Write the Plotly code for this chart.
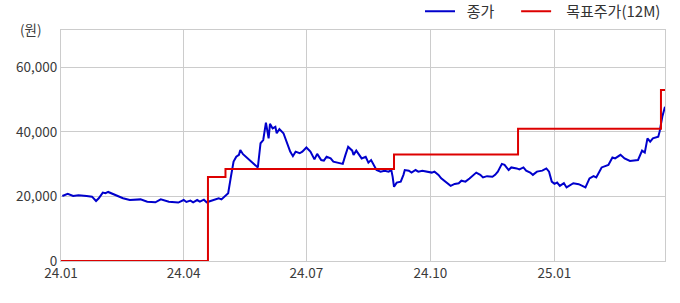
import plotly.graph_objects as go

# 종가 (close price)
close_dates = [
    "2024-01-02", "2024-01-06", "2024-01-10", "2024-01-14", "2024-01-20", "2024-01-24",
    "2024-01-27", "2024-01-29", "2024-02-01", "2024-02-03", "2024-02-05", "2024-02-08",
    "2024-02-11", "2024-02-16", "2024-02-21", "2024-02-27", "2024-02-29", "2024-03-05",
    "2024-03-11", "2024-03-15", "2024-03-21", "2024-03-28", "2024-04-01", "2024-04-03",
    "2024-04-06", "2024-04-08", "2024-04-11", "2024-04-13", "2024-04-16", "2024-04-18",
    "2024-04-22", "2024-04-24", "2024-04-27", "2024-04-29", "2024-05-02", "2024-05-04",
    "2024-05-06", "2024-05-08", "2024-05-10", "2024-05-12", "2024-05-13", "2024-05-15",
    "2024-05-26", "2024-05-28", "2024-05-30", "2024-06-01", "2024-06-03", "2024-06-04",
    "2024-06-06", "2024-06-08", "2024-06-09", "2024-06-11", "2024-06-14", "2024-06-17",
    "2024-06-19", "2024-06-21", "2024-06-23", "2024-06-26", "2024-06-28", "2024-07-01",
    "2024-07-04", "2024-07-07", "2024-07-09", "2024-07-12", "2024-07-14", "2024-07-16",
    "2024-07-19", "2024-07-21", "2024-07-25", "2024-07-28", "2024-07-30", "2024-08-01",
    "2024-08-04", "2024-08-05", "2024-08-07", "2024-08-09", "2024-08-11", "2024-08-14",
    "2024-08-16", "2024-08-18", "2024-08-20", "2024-08-22", "2024-08-25", "2024-08-28",
    "2024-08-31", "2024-09-02", "2024-09-03", "2024-09-04", "2024-09-06", "2024-09-09",
    "2024-09-11", "2024-09-12", "2024-09-15", "2024-09-17", "2024-09-20", "2024-09-22",
    "2024-09-25", "2024-09-28", "2024-10-02", "2024-10-04", "2024-10-07", "2024-10-09",
    "2024-10-13", "2024-10-16", "2024-10-19", "2024-10-22", "2024-10-24", "2024-10-27",
    "2024-10-30", "2024-11-04", "2024-11-07", "2024-11-09", "2024-11-12", "2024-11-16",
    "2024-11-18", "2024-11-20", "2024-11-23", "2024-11-25", "2024-11-28", "2024-11-30",
    "2024-12-04", "2024-12-06", "2024-12-09", "2024-12-11", "2024-12-14", "2024-12-16",
    "2024-12-19", "2024-12-23", "2024-12-26", "2024-12-28", "2024-12-30", "2025-01-01",
    "2025-01-03", "2025-01-05", "2025-01-08", "2025-01-10", "2025-01-15", "2025-01-19",
    "2025-01-24", "2025-01-27", "2025-01-30", "2025-02-01", "2025-02-05", "2025-02-08",
    "2025-02-10", "2025-02-13", "2025-02-15", "2025-02-19", "2025-02-22", "2025-02-26",
    "2025-03-02", "2025-03-04", "2025-03-07", "2025-03-09", "2025-03-11", "2025-03-13",
    "2025-03-15", "2025-03-17", "2025-03-19", "2025-03-20", "2025-03-22", "2025-03-24",
]
close_values = [
    20150, 20800, 20150, 20400, 20150, 19950,
    18600, 19450, 21200, 21000, 21400, 20800,
    20400, 19450, 18900, 18900, 19100, 18400,
    18200, 19100, 18400, 18100, 18900, 18300,
    18700, 18200, 18900, 18400, 19000, 18200,
    18700, 19100, 19400, 19100, 20400, 21000,
    26100, 30800, 32300, 32900, 34400, 33100,
    29000, 36500, 37500, 42900, 38000, 42500,
    41100, 41600, 39600, 40900, 39600, 36500,
    33900, 32500, 33900, 33400, 33900, 35200,
    33900, 31500, 33200, 31300, 31100, 32300,
    31800, 30800, 30500, 30100, 32900, 35400,
    34200, 32900, 34200, 32900, 31800, 32300,
    30500, 31300, 29800, 28200, 27700, 28000,
    27700, 28200, 26100, 23000, 24300, 24600,
    26700, 28200, 28000, 27400, 28200, 27700,
    28000, 27700, 27400, 27700, 26700, 25600,
    24300, 23300, 23900, 24100, 24900, 24600,
    25600, 27400, 26700, 25900, 26300, 26100,
    26700, 27700, 30100, 29800, 28200, 29000,
    28700, 28400, 29000, 28000, 27400, 26700,
    27700, 28000, 28700, 27700, 24600, 23900,
    24300, 23300, 24100, 22800, 24100, 23800,
    22800, 25600, 26300, 25900, 29000, 29500,
    29800, 32100, 31800, 32900, 31800, 31000,
    31100, 31300, 34200, 33600, 38000, 37000,
    38000, 38300, 38500, 40100, 44700, 47800,
]

# 목표주가(12M) (target price, step changes)
target_dates = ["2024-01-01", "2024-04-19", "2024-05-02", "2024-09-04",
                "2024-12-05", "2025-03-21", "2025-03-24"]
target_values = [0, 26000, 28500, 33000, 41000, 53000, 53000]

x_tick_vals = ["2024-01-01", "2024-04-01", "2024-07-01", "2024-10-01", "2025-01-01"]
x_tick_text = ["24.01", "24.04", "24.07", "24.10", "25.01"]
y_tick_vals = [0, 20000, 40000, 60000]

FONT = "Noto Sans CJK KR"
GRID = "#cccccc"
NB = "\u00a0"

fig = go.Figure()
fig.add_trace(go.Scatter(
    x=close_dates, y=close_values, mode="lines", name=NB * 2 + "종가" + NB * 5,
    line=dict(color="#0000cc", width=2),
))
fig.add_trace(go.Scatter(
    x=target_dates, y=target_values, mode="lines", name=NB * 3 + "목표주가(12M)",
    line=dict(color="#dd0000", width=2, shape="hv"),
))

fig.update_layout(
    width=680, height=303,
    margin=dict(l=61, r=15, t=30, b=42, autoexpand=False),
    paper_bgcolor="white", plot_bgcolor="white",
    font=dict(family=FONT, size=13, color="#333333"),
    showlegend=True,
    legend=dict(
        orientation="h", xref="paper", yref="paper",
        x=(420 - 61) / 604, xanchor="left", y=(261 + 5) / 231, yanchor="top",
        font=dict(size=15, color="#333333"), bgcolor="rgba(0,0,0,0)",
        itemwidth=30,
    ),
    xaxis=dict(
        type="date", range=["2024-01-01", "2025-03-24"],
        tickvals=x_tick_vals, ticktext=x_tick_text,
        showgrid=True, gridcolor=GRID, gridwidth=1,
        showline=True, linecolor=GRID, linewidth=1, mirror=True,
        ticks="", zeroline=False,
        tickfont=dict(size=13.5, color="#3a3a3a"),
    ),
    yaxis=dict(
        range=[0, 71600], tickvals=y_tick_vals, tickformat=",",
        showgrid=True, gridcolor=GRID, gridwidth=1,
        showline=True, linecolor=GRID, linewidth=1, mirror=True,
        ticks="", zeroline=False,
        tickfont=dict(size=13.5, color="#3a3a3a"),
    ),
    annotations=[dict(
        text="(원)", xref="paper", yref="paper", x=-0.0497, y=1.004,
        xanchor="center", yanchor="middle", showarrow=False,
        font=dict(size=13.5, color="#3a3a3a"),
    )],
)

fig.write_html("out.html")
